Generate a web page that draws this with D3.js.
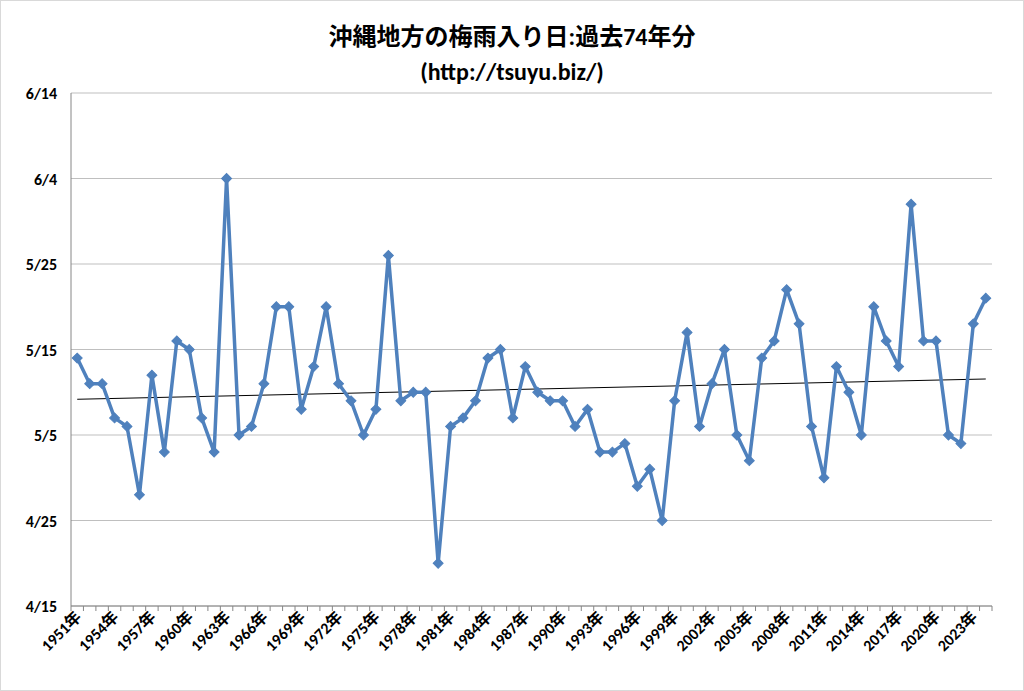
<!DOCTYPE html>
<html><head><meta charset="utf-8">
<script src="https://cdn.jsdelivr.net/npm/d3@7"></script>
<style>body{margin:0;background:#fff}svg{display:block}text{font-family:Calibri,"Liberation Sans","Noto Sans CJK JP",sans-serif}</style>
</head><body>
<svg id="c" width="1024" height="691"></svg>
<script>
const startYear = 1951;
const dates = ["5/14","5/11","5/11","5/7","5/6","4/28","5/12","5/3","5/16","5/15",
"5/7","5/3","6/4","5/5","5/6","5/11","5/20","5/20","5/8","5/13",
"5/20","5/11","5/9","5/5","5/8","5/26","5/9","5/10","5/10","4/20",
"5/6","5/7","5/9","5/14","5/15","5/7","5/13","5/10","5/9","5/9",
"5/6","5/8","5/3","5/3","5/4","4/29","5/1","4/25","5/9","5/17",
"5/6","5/11","5/15","5/5","5/2","5/14","5/16","5/22","5/18","5/6",
"4/30","5/13","5/10","5/5","5/20","5/16","5/13","6/1","5/16","5/16",
"5/5","5/4","5/18","5/21"];
const yTickLabels = ["4/15","4/25","5/5","5/15","5/25","6/4","6/14"];
const title1 = "沖縄地方の梅雨入り日:過去74年分";
const title2 = "(http://tsuyu.biz/)";

const toDay = s => { const [m,d] = s.split("/").map(Number); return d3.timeDay.count(new Date(2001,3,15), new Date(2001,m-1,d)); };
const years = dates.map((d,i)=>startYear+i);
const vals = dates.map(toDay);

const svg = d3.select("#c");
svg.append("rect").attr("x",0.5).attr("y",0.5).attr("width",1023).attr("height",690).attr("fill","#fff").attr("stroke","#d9d9d9");
const L=71,R=992,T=93,B=606;
const x = d3.scaleBand().domain(years).range([L,R]);
const xc = yr => x(yr)+x.bandwidth()/2;
const y = d3.scaleLinear().domain([0,60]).range([B,T]);

svg.append("g").selectAll("line").data(yTickLabels).join("line")
 .attr("x1",L).attr("x2",R).attr("y1",d=>y(toDay(d))).attr("y2",d=>y(toDay(d))).attr("stroke","#bfbfbf");
svg.append("g").selectAll("text").data(yTickLabels).join("text")
 .attr("x",L-14).attr("y",d=>y(toDay(d))+6).attr("text-anchor","end").attr("font-size",16).attr("font-weight","bold").text(d=>d);

svg.append("line").attr("x1",L).attr("x2",L).attr("y1",T).attr("y2",B).attr("stroke","#868686");
svg.append("line").attr("x1",L).attr("x2",R).attr("y1",B).attr("y2",B).attr("stroke","#868686");
svg.append("g").selectAll("line").data(years.concat([years[years.length-1]+1])).join("line")
 .attr("x1",d=>d<=years[years.length-1]?x(d):R).attr("x2",d=>d<=years[years.length-1]?x(d):R).attr("y1",B).attr("y2",B+5).attr("stroke","#868686");

const lblYears = years.filter((d,i)=>i%3===0);
svg.append("g").selectAll("text").data(lblYears).join("text")
 .attr("transform",d=>`translate(${xc(d)+5},${B+12}) rotate(-45)`).attr("text-anchor","end")
 .attr("font-size",16).attr("font-weight","bold").text(d=>d+"年");

// trendline
const n=vals.length, xs=d3.range(n), mx=d3.mean(xs), my=d3.mean(vals);
const b=d3.sum(xs,(xi,i)=>(xi-mx)*(vals[i]-my))/d3.sum(xs,xi=>(xi-mx)**2), a=my-b*mx;
svg.append("line").attr("x1",xc(years[0])).attr("x2",xc(years[n-1])).attr("y1",y(a)).attr("y2",y(a+b*(n-1))).attr("stroke","#000").attr("stroke-width",1);

svg.append("path").datum(vals).attr("fill","none").attr("stroke","#4f81bd").attr("stroke-width",3.5).attr("stroke-linejoin","round")
 .attr("d",d3.line().x((d,i)=>xc(years[i])).y(d=>y(d)));
svg.append("g").selectAll("path").data(vals).join("path")
 .attr("transform",(d,i)=>`translate(${xc(years[i])},${y(d)}) rotate(45)`)
 .attr("d","M-3.5,-3.5H3.5V3.5H-3.5Z").attr("fill","#4f81bd").attr("stroke","#4f81bd");

svg.append("text").attr("x",512).attr("y",45).attr("text-anchor","middle").attr("font-size",24).attr("font-weight","bold").text(title1);
svg.append("text").attr("x",512).attr("y",80).attr("text-anchor","middle").attr("font-size",24).attr("font-weight","bold").text(title2);
</script></body></html>
